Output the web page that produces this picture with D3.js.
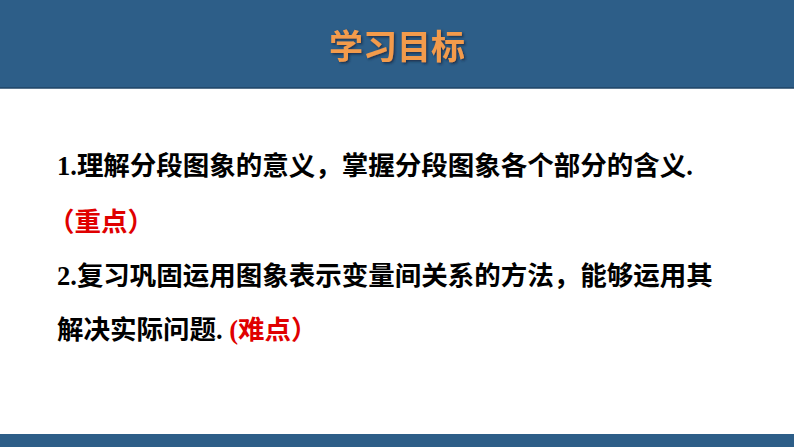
<!DOCTYPE html>
<html>
<head>
<meta charset="utf-8">
<script src="https://cdn.jsdelivr.net/npm/d3@7/dist/d3.min.js"></script>
<style>
  html, body { margin: 0; padding: 0; background: #fff; }
  svg { display: block; }
</style>
</head>
<body>
<svg id="slide"></svg>
<script>
var width = 794;
var height = 447;

var title = '学习目标';

// each line is a list of [text, colour] pieces
var lineX = [57, 48, 57, 57];
var lineY = [175, 231, 285, 339];
var linePieces = [
  [['1.理解分段图象的意义，掌握分段图象各个部分的含义.', '#000']],
  [['（重点）', '#e00000']],
  [['2.复习巩固运用图象表示变量间关系的方法，能够运用其', '#000']],
  [['解决实际问题. ', '#000'], ['(难点）', '#e00000']]
];

var svg = d3.select('#slide').attr('width', width).attr('height', height);

var defs = svg.append('defs');
var shadow = defs.append('filter').attr('id', 'titleShadow')
  .attr('x', '-10%').attr('y', '-20%').attr('width', '130%').attr('height', '150%');
shadow.append('feDropShadow')
  .attr('dx', 1.5).attr('dy', 1.5).attr('stdDeviation', 0.8)
  .attr('flood-color', '#13283c').attr('flood-opacity', 0.8);

svg.append('rect')
  .attr('width', width).attr('height', height)
  .attr('fill', '#fff');

// header band
svg.append('rect')
  .attr('x', 0).attr('y', 0)
  .attr('width', width).attr('height', 88)
  .attr('fill', '#2d5e88');
svg.append('line')
  .attr('x1', 0).attr('x2', width)
  .attr('y1', 88).attr('y2', 88)
  .attr('stroke', '#1f4466').attr('stroke-width', 1.5);

// footer band
svg.append('rect')
  .attr('x', 0).attr('y', 434)
  .attr('width', width).attr('height', height - 434)
  .attr('fill', '#2d5e88');

svg.append('text')
  .attr('x', 397).attr('y', 59)
  .attr('text-anchor', 'middle')
  .attr('font-family', '"Noto Sans CJK SC", sans-serif')
  .attr('font-weight', 700)
  .attr('font-size', 34)
  .attr('fill', '#f39b4c')
  .attr('filter', 'url(#titleShadow)')
  .text(title);

var lines = svg.selectAll('text.line')
  .data(linePieces)
  .join('text')
  .attr('class', 'line')
  .attr('x', function (d, i) { return lineX[i]; })
  .attr('y', function (d, i) { return lineY[i]; })
  .attr('font-family', '"Liberation Serif", "Noto Sans CJK SC", serif')
  .attr('font-weight', 700)
  .attr('font-size', 26.5)
  .attr('xml:space', 'preserve');

lines.selectAll('tspan')
  .data(function (d) { return d; })
  .join('tspan')
  .attr('fill', function (d) { return d[1]; })
  .text(function (d) { return d[0]; });
</script>
</body>
</html>
